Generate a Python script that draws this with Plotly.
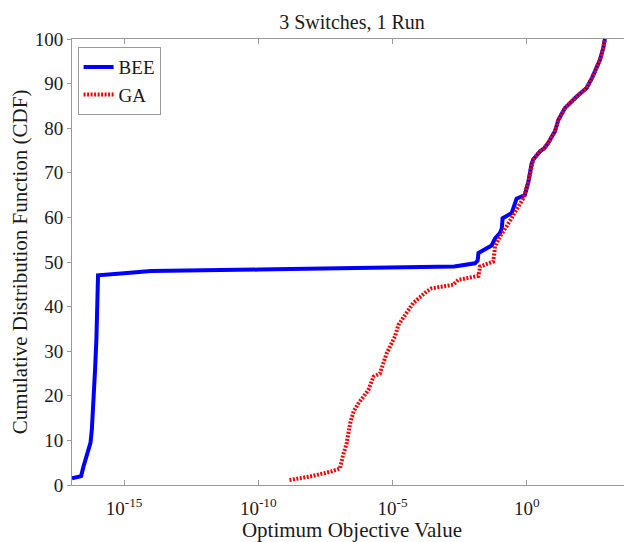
import plotly.graph_objects as go

# ---- data (x stored as log10 of the optimum objective value, y as CDF in %) ----
bee_log10_value = [-16.94, -16.6, -16.52, -16.45, -16.32, -16.25, -16.20, -16.16, -16.13,
                   -16.08, -16.03, -16.00, -15.97, -15.0, -14.0, -10.0, -6.0, -2.7,
                   -1.93, -1.83, -1.80, -1.5, -1.31, -1.18, -1.0, -0.93, -0.90, -0.70,
                   -0.56, -0.42, -0.38, -0.07, 0.06, 0.18, 0.24, 0.49, 0.65, 0.80, 0.95,
                   1.05, 1.18, 1.42, 1.86, 2.23, 2.45, 2.54, 2.73, 2.85, 2.91]
bee_cdf = [1.5, 2.0, 4.0, 5.5, 7.5, 9.5, 12.5, 16, 19.5,
           26, 33, 40, 47, 47.5, 48.0, 48.3, 48.6, 49.0,
           49.7, 50.3, 52.0, 53.0, 53.7, 55.3, 56.5, 57.5, 59.8, 60.5,
           61.0, 63.5, 64.2, 65.0, 68, 72, 73, 74.8, 75.5, 76.7, 78.5,
           79.3, 81.9, 84.5, 87.1, 89, 91.5, 92.7, 95.4, 98, 100]

ga_log10_value = [-8.84, -8.0, -7.3, -6.96, -6.85, -6.71, -6.58, -6.45, -6.27, -5.90,
                  -5.71, -5.47, -5.22, -4.91, -4.78, -4.5, -4.23, -3.90, -3.73, -3.54,
                  -2.74, -2.55, -1.80, -1.74, -1.25, -1.18, -1.0, -0.75, -0.37, -0.13,
                  0.06, 0.18, 0.24, 0.49, 0.65, 0.80, 0.95, 1.05, 1.18, 1.42, 1.86,
                  2.23, 2.45, 2.54, 2.73, 2.85, 2.91]
ga_cdf = [1.1, 2.0, 3.0, 3.7, 6.5, 9.3, 13.8, 16.5, 18.3, 21.3,
          24.3, 25.0, 29.5, 33.3, 35.9, 38.5, 40.8, 42.5, 43.4, 44.1,
          44.9, 46.0, 46.9, 49.0, 50.1, 53.5, 55.7, 58.0, 61.7, 64.3,
          68, 72, 73, 74.8, 75.5, 76.7, 78.5, 79.3, 81.9, 84.5, 87.1,
          89, 91.5, 92.7, 95.4, 98, 100]

x_tick_values = [1e-15, 1e-10, 1e-5, 1e0]
x_tick_labels = ["10<sup>-15</sup>", "10<sup>-10</sup>", "10<sup>-5</sup>", "10<sup>0</sup>"]
y_tick_values = [0, 10, 20, 30, 40, 50, 60, 70, 80, 90, 100]

title_text = "3 Switches, 1 Run"
x_title = "Optimum Objective Value"
y_title = "Cumulative Distribution Function (CDF)"

FONT = "Liberation Serif"
TXT = "#1a1a1a"
AX = "#9a9a9a"

# the page body has an 8px margin, so the figure is sized to fill the rest of the window
W, H = 624, 534

fig = go.Figure()
fig.add_trace(go.Scatter(
    x=[10 ** v for v in bee_log10_value], y=bee_cdf, mode="lines", name="BEE",
    line=dict(color="#0000ff", width=4)))
fig.add_trace(go.Scatter(
    x=[10 ** v for v in ga_log10_value], y=ga_cdf, mode="lines", name="GA",
    line=dict(color="#ff0000", width=4, dash="2px,1.5px")))

fig.update_layout(
    width=W, height=H,
    margin=dict(l=64, r=0, t=31, b=57),
    paper_bgcolor="white", plot_bgcolor="white",
    font=dict(family=FONT, size=19, color=TXT),
    title=dict(text=title_text, x=(64 + W) / 2 / W, xanchor="center",
               y=1 - 14 / H, yanchor="middle", font=dict(family=FONT, size=20)),
    showlegend=True,
    legend=dict(x=0.01, y=0.982, xanchor="left", yanchor="top",
                bgcolor="white", bordercolor=AX, borderwidth=1,
                font=dict(family=FONT, size=19), tracegroupgap=0),
    xaxis=dict(type="log", range=[-16.94, 3.92], tickvals=x_tick_values,
               ticktext=x_tick_labels, ticks="inside", ticklen=5, tickcolor=AX,
               showline=True, linecolor=AX, linewidth=1, mirror="ticks",
               showgrid=False, zeroline=False, ticklabelstandoff=6,
               title=dict(text=x_title, standoff=0, font=dict(family=FONT, size=21)),
               tickfont=dict(family=FONT, size=19)),
    yaxis=dict(range=[0, 100], tickvals=y_tick_values, ticks="outside", ticklen=4,
               tickcolor=AX, showline=True, linecolor=AX, linewidth=1,
               showgrid=False, zeroline=False,
               title=dict(text=y_title, standoff=8, font=dict(family=FONT, size=21)),
               tickfont=dict(family=FONT, size=19)),
)

fig.write_html("out.html")
